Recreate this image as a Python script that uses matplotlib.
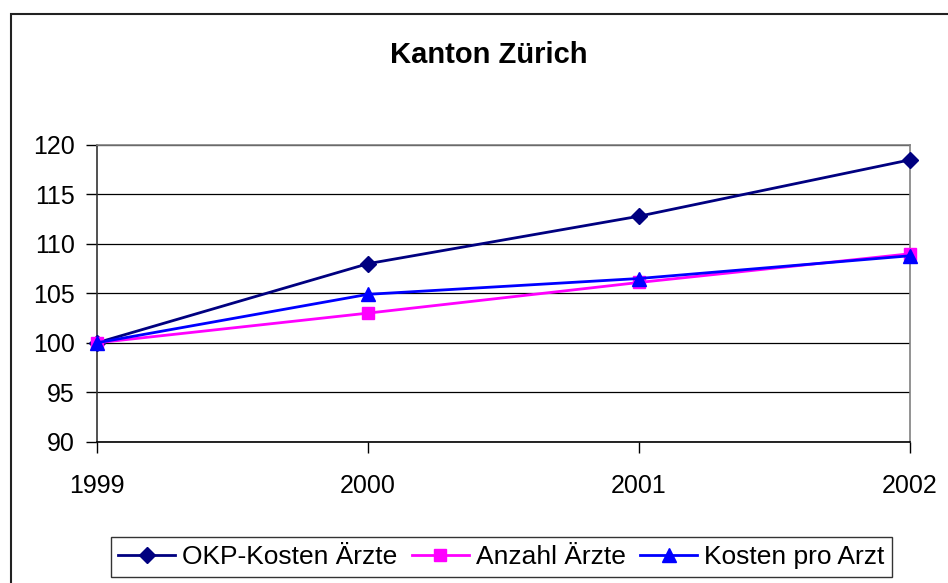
import matplotlib
matplotlib.use("Agg")
import matplotlib.pyplot as plt
from matplotlib.patches import Rectangle

plt.rcParams['font.family'] = ['Liberation Sans', 'DejaVu Sans']

# data (index 1999 = 100)
years = ['1999', '2000', '2001', '2002']
okp_kosten = [100, 108.0, 112.8, 118.5]
anzahl_aerzte = [100, 103.0, 106.1, 109.0]
kosten_pro_arzt = [100, 104.9, 106.5, 108.8]
y_ticks = [90, 95, 100, 105, 110, 115, 120]

fig = plt.figure(figsize=(9.48, 5.83), dpi=100)
ax = fig.add_axes([0.1023, 0.2424, 0.8577, 0.5089])

x = range(len(years))
ax.plot(x, okp_kosten, color='#000080', lw=2, marker='D', ms=8.5,
        label='OKP-Kosten Ärzte', clip_on=False, zorder=3)
ax.plot(x, anzahl_aerzte, color='#FF00FF', lw=2, marker='s', ms=8.5,
        label='Anzahl Ärzte', clip_on=False, zorder=3)
ax.plot(x, kosten_pro_arzt, color='#0000FF', lw=2, marker='^', ms=10.5,
        label='Kosten pro Arzt', clip_on=False, zorder=4)

ax.set_xlim(0, len(years) - 1)
ax.set_ylim(90, 120)
ax.set_xticks(list(x))
ax.set_xticklabels(years)
ax.set_yticks(y_ticks)
ax.yaxis.grid(True, color='black', lw=0.9)
ax.set_axisbelow(True)

ax.tick_params(axis='y', direction='out', length=8, width=1, labelsize=18, pad=8)
ax.tick_params(axis='x', direction='out', length=8, width=1, labelsize=18, pad=15)

ax.spines['left'].set_color('#333333')
ax.spines['bottom'].set_color('black')
ax.spines['top'].set_color('#808080')
ax.spines['right'].set_color('#808080')
for s in ax.spines.values():
    s.set_linewidth(1.2)

fig.text(0.516, 0.9057, 'Kanton Zürich', ha='center', va='center',
         fontsize=21, fontweight='bold')

leg = fig.legend(loc='center', bbox_to_anchor=(0.529, 0.0446), ncol=3,
                 fontsize=19, frameon=True, fancybox=False, edgecolor='black',
                 handlelength=2.15, handletextpad=0.27, columnspacing=0.55,
                 borderpad=0.3, borderaxespad=0)
leg.get_frame().set_linewidth(1.0)

# outer chart border (right and bottom run off the image)
fig.patches.append(Rectangle((0.0116, -0.1), 1.2, 1.076, transform=fig.transFigure,
                             fill=False, edgecolor='#222222', lw=1.5))

fig.savefig('out.png', dpi=100)
